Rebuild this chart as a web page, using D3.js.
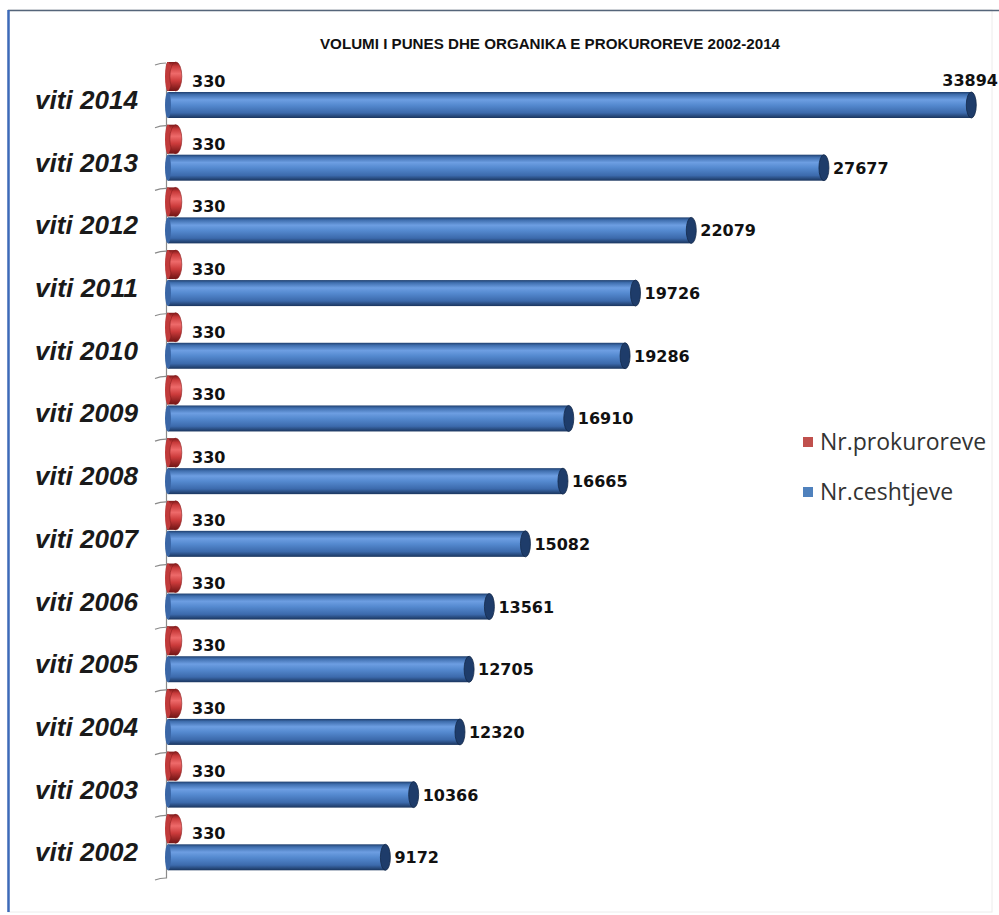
<!DOCTYPE html>
<html><head><meta charset="utf-8">
<script src="https://cdn.jsdelivr.net/npm/d3@7"></script>
<style>body{margin:0;background:#fff}svg{display:block}</style>
</head><body>
<svg id="c" width="999" height="915"></svg>
<script>
const years = ["viti 2014","viti 2013","viti 2012","viti 2011","viti 2010","viti 2009","viti 2008","viti 2007","viti 2006","viti 2005","viti 2004","viti 2003","viti 2002"];
const prokuroreve = [330,330,330,330,330,330,330,330,330,330,330,330,330];
const ceshtjeve = [33894,27677,22079,19726,19286,16910,16665,15082,13561,12705,12320,10366,9172];
const seriesNames = ["Nr.prokuroreve","Nr.ceshtjeve"];
const title = "VOLUMI I PUNES DHE ORGANIKA E PROKUROREVE 2002-2014";

const svg = d3.select("#c");
const defs = svg.append("defs");
function grad(id, stops){
  const g = defs.append("linearGradient").attr("id",id).attr("x1",0).attr("y1",0).attr("x2",0).attr("y2",1);
  stops.forEach(s=>g.append("stop").attr("offset",s[0]).attr("stop-color",s[1]));
}
grad("gb",[["0%","#1f3f6e"],["10%","#3f6eae"],["30%","#6d9ee2"],["50%","#558ad0"],["80%","#3c6aac"],["100%","#1a355e"]]);
grad("gr",[["0%","#7e1a1a"],["15%","#c83a3a"],["40%","#ee6a6a"],["65%","#cc3b3b"],["100%","#6e1414"]]);

// frame
svg.append("rect").attr("x",8).attr("y",10).attr("width",984).attr("height",902).attr("fill","#fff").attr("stroke","#ececec");
svg.append("line").attr("x1",8).attr("x2",999).attr("y1",10.5).attr("y2",10.5).attr("stroke","#55657a").attr("stroke-width",1.5);
svg.append("line").attr("x1",8.5).attr("x2",8.5).attr("y1",10).attr("y2",912).attr("stroke","#3d6ab8").attr("stroke-width",2.5);

svg.append("text").attr("x",550).attr("y",49).attr("text-anchor","middle")
  .attr("font-family","'Liberation Sans Narrow','Liberation Sans',sans-serif").attr("font-weight","bold")
  .attr("font-size",14.5).attr("textLength",460).attr("lengthAdjust","spacingAndGlyphs").attr("fill","#111").text(title);

const y = d3.scaleBand().domain(years).range([63,878]).padding(0);
const x = d3.scaleLinear().domain([0,35000]).range([168,997.5]);

// axis
const axis = d3.axisLeft(y).tickSize(0).tickFormat("");
const ag = svg.append("g").attr("transform","translate(166,0)").call(axis);
ag.select(".domain").attr("stroke","#8a8a8a").attr("stroke-width",1.2);
const bounds = years.map(d=>y(d)).concat([878]);
svg.selectAll(".tk").data(bounds).enter().append("path").attr("class","tk")
  .attr("d",d=>`M155,${d+2} Q160,${d} 166,${d}`).attr("fill","none").attr("stroke","#8a8a8a").attr("stroke-width",1.2);

// year labels
svg.selectAll(".yl").data(years).enter().append("text").attr("class","yl")
  .attr("x",138).attr("y",d=>y(d)+46).attr("text-anchor","end")
  .attr("font-family","'Liberation Sans Narrow','Liberation Sans',sans-serif").attr("font-style","italic").attr("font-weight","bold")
  .attr("font-size",26).attr("textLength",103).attr("lengthAdjust","spacingAndGlyphs")
  .attr("fill","#1a1a1a").text(d=>d);

// blue bars
const bh = 26;
const bg = svg.append("g");
years.forEach((yr,i)=>{
  const top = y(yr)+29, v = ceshtjeve[i], xe = x(v);
  bg.append("rect").attr("x",x(0)).attr("y",top).attr("width",xe-x(0)).attr("height",bh).attr("fill","url(#gb)");
  bg.append("ellipse").attr("cx",x(0)).attr("cy",top+bh/2).attr("rx",3).attr("ry",bh/2).attr("fill","#3a66a6");
  bg.append("ellipse").attr("cx",xe).attr("cy",top+bh/2).attr("rx",5).attr("ry",bh/2).attr("fill","#1e3c6a").attr("stroke","#14294a").attr("stroke-width",0.8);
  const fits = xe+65 < 999;
  bg.append("text").attr("x",fits? xe+9 : xe-29).attr("y",fits? y(yr)+48 : y(yr)+23)
    .attr("font-family","'DejaVu Sans',sans-serif").attr("font-weight","bold").attr("font-size",16)
    .attr("fill","#111").text(v);
});
// red bars
const rg = svg.append("g");
years.forEach((yr,i)=>{
  const top = y(yr)-1, h = 29, v = prokuroreve[i], xe = x(v);
  rg.append("rect").attr("x",x(0)-1).attr("y",top).attr("width",xe-x(0)+1).attr("height",h).attr("fill","url(#gr)");
  rg.append("ellipse").attr("cx",x(0)).attr("cy",top+h/2).attr("rx",3).attr("ry",h/2).attr("fill","#c03a3a");
  rg.append("ellipse").attr("cx",xe).attr("cy",top+h/2).attr("rx",6).attr("ry",h/2).attr("fill","url(#gr)").attr("stroke","#8a1e1e").attr("stroke-width",0.6);
  rg.append("text").attr("x",192).attr("y",y(yr)+24)
    .attr("font-family","'DejaVu Sans',sans-serif").attr("font-weight","bold").attr("font-size",16)
    .attr("fill","#111").text(v);
});

// legend
const lg = svg.append("g");
const lcol = ["#c0504d","#4f81bd"];
seriesNames.forEach((n,i)=>{
  lg.append("rect").attr("x",803).attr("y",437+i*50).attr("width",10).attr("height",10).attr("fill",lcol[i]);
  lg.append("text").attr("x",820).attr("y",450+i*50).attr("font-family","'Open Sans',sans-serif")
    .attr("font-size",23).attr("fill","#333").text(n);
});
</script>
</body></html>
